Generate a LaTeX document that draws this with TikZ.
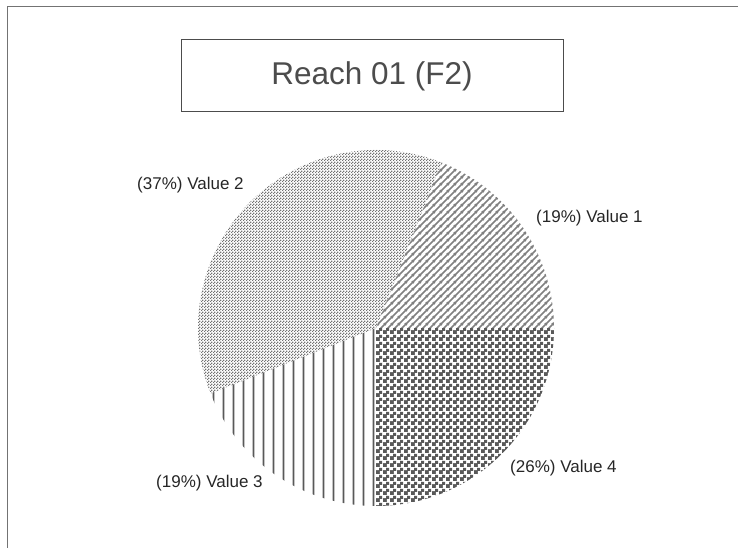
\documentclass[tikz,border=0pt]{standalone}
\usepackage{fontspec}
\setmainfont{Liberation Sans}
\usetikzlibrary{patterns,patterns.meta}

% hatch fills of the four slices
\tikzdeclarepattern{
  name=diagstripes, type=uncolored,
  bottom left={(0pt,0pt)}, top right={(7pt,7pt)}, tile size={(7pt,7pt)},
  code={
    \draw[line width=1.8pt] (-1pt,-1pt) -- (8pt,8pt);
    \draw[line width=1.8pt] (-1pt,6pt) -- (1pt,8pt);
    \draw[line width=1.8pt] (6pt,-1pt) -- (8pt,1pt);
  }
}
\tikzdeclarepattern{
  name=vertstripes, type=uncolored,
  bottom left={(0pt,0pt)}, top right={(9.5pt,9.5pt)}, tile size={(9.5pt,9.5pt)},
  code={\draw[line width=1.7pt] (4.75pt,-1pt) -- (4.75pt,10.5pt);}
}
\tikzdeclarepattern{
  name=checker, type=uncolored,
  bottom left={(0pt,0pt)}, top right={(6.6pt,6.6pt)}, tile size={(6.6pt,6.6pt)},
  code={
    \fill (0pt,0pt) rectangle (3.9pt,3.9pt);
    \fill (3.3pt,3.3pt) rectangle (6.6pt,6.6pt);
    \fill (3.3pt,0pt) rectangle (3.9pt,6.6pt);
    \fill (0pt,3.3pt) rectangle (6.6pt,3.9pt);
  }
}
\tikzdeclarepattern{
  name=finedots, type=uncolored,
  bottom left={(0pt,0pt)}, top right={(3pt,3pt)}, tile size={(3pt,3pt)},
  code={
    \fill (0pt,0pt) rectangle (1.5pt,1.5pt);
    \fill (1.5pt,1.5pt) rectangle (3pt,3pt);
  }
}

\tikzset{
  titlebox/.style={rectangle,draw=black!70,line width=1pt,minimum width=382pt,minimum height=72pt,
    font=\fontsize{31.5}{35}\selectfont,text=black!70},
  slicelabel/.style={anchor=west,inner sep=0pt,font=\fontsize{17}{20}\selectfont,text=black!85},
  frameline/.style={draw=black!55,line width=0.9pt}
}

\begin{document}
\begin{tikzpicture}[x=1pt,y=1pt]
  \useasboundingbox (0,0) rectangle (738,548);
  \draw[frameline] (7,0) -- (7,542) -- (738,542);

  \node[titlebox] (title) at (372,472) {Reach 01 (F2)};

  \coordinate (centre) at (376,220);
  \fill[pattern=diagstripes,pattern color=black!50] (centre) -- ++(0:178) arc[start angle=0,end angle=68.4,radius=178] -- cycle;
  \fill[pattern=finedots,pattern color=black!55] (centre) -- ++(68.4:178) arc[start angle=68.4,end angle=201.6,radius=178] -- cycle;
  \fill[pattern=vertstripes,pattern color=black!65] (centre) -- ++(201.6:178) arc[start angle=201.6,end angle=270,radius=178] -- cycle;
  \fill[pattern=checker,pattern color=black!65] (centre) -- ++(270:178) arc[start angle=270,end angle=360,radius=178] -- cycle;

  \node[slicelabel] (val1) at (536,330) {(19\%) Value 1};
  \node[slicelabel] (val2) at (137,363) {(37\%) Value 2};
  \node[slicelabel] (val3) at (156,65) {(19\%) Value 3};
  \node[slicelabel] (val4) at (510,80) {(26\%) Value 4};
\end{tikzpicture}
\end{document}
